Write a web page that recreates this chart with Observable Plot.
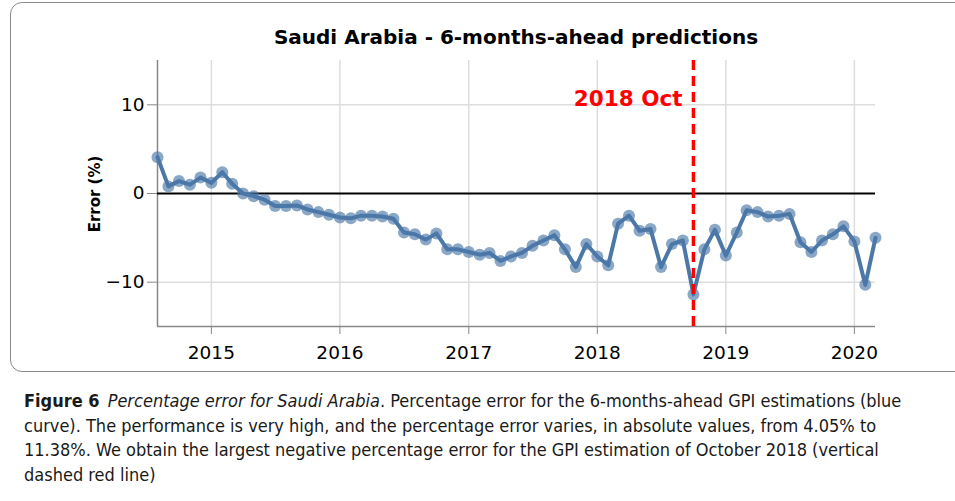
<!DOCTYPE html>
<html>
<head>
<meta charset="utf-8">
<script src="https://cdn.jsdelivr.net/npm/d3@7"></script>
<script src="https://cdn.jsdelivr.net/npm/@observablehq/plot@0.6"></script>
<style>
  html, body { margin: 0; padding: 0; background: #fff; }
  #page { position: relative; width: 955px; height: 501px; overflow: hidden; background: #fff; }
  #box { position: absolute; left: 10px; top: 2px; width: 960px; height: 370px; border: 1.5px solid #8a8a8a; border-radius: 12px; box-sizing: border-box; }
  #title { position: absolute; left: 156px; width: 720px; top: 25px; text-align: center; font-family: "DejaVu Sans", sans-serif; font-weight: bold; font-size: 20px; color: #000; }
  #ylabel { position: absolute; left: 95px; top: 194px; transform: translate(-50%, -50%) rotate(-90deg); font-family: "DejaVu Sans", sans-serif; font-weight: bold; font-size: 15px; white-space: nowrap; color: #000; }
  #chart { position: absolute; left: 0; top: 50px; }
  #caption { position: absolute; left: 24px; top: 389px; font-family: "Liberation Sans Narrow", "DejaVu Sans Condensed", "Open Sans", sans-serif; font-size: 18px; line-height: 24.5px; color: #1a1a1a; white-space: nowrap; }
  #caption b { font-weight: bold; margin-right: 8px; }
</style>
</head>
<body>
<div id="page">
  <div id="box"></div>
  <div id="title">Saudi Arabia - 6-months-ahead predictions</div>
  <div id="ylabel">Error (%)</div>
  <div id="chart"></div>
  <div id="caption">
    <div><b>Figure 6</b><i>Percentage error for Saudi Arabia</i>. Percentage error for the 6-months-ahead GPI estimations (blue</div>
    <div>curve). The performance is very high, and the percentage error varies, in absolute values, from 4.05% to</div>
    <div>11.38%. We obtain the largest negative percentage error for the GPI estimation of October 2018 (vertical</div>
    <div>dashed red line)</div>
  </div>
</div>
<script>
const months = [
  "2014-08","2014-09","2014-10","2014-11","2014-12",
  "2015-01","2015-02","2015-03","2015-04","2015-05","2015-06","2015-07","2015-08","2015-09","2015-10","2015-11","2015-12",
  "2016-01","2016-02","2016-03","2016-04","2016-05","2016-06","2016-07","2016-08","2016-09","2016-10","2016-11","2016-12",
  "2017-01","2017-02","2017-03","2017-04","2017-05","2017-06","2017-07","2017-08","2017-09","2017-10","2017-11","2017-12",
  "2018-01","2018-02","2018-03","2018-04","2018-05","2018-06","2018-07","2018-08","2018-09","2018-10","2018-11","2018-12",
  "2019-01","2019-02","2019-03","2019-04","2019-05","2019-06","2019-07","2019-08","2019-09","2019-10","2019-11","2019-12",
  "2020-01","2020-02","2020-03"
];
const errors = [
  4.1, 0.8, 1.4, 1.0, 1.8,
  1.2, 2.4, 1.1, 0.0, -0.3, -0.7, -1.4, -1.4, -1.35, -1.8, -2.1, -2.4,
  -2.7, -2.8, -2.5, -2.5, -2.6, -2.85, -4.4, -4.6, -5.2, -4.5, -6.3, -6.3,
  -6.6, -6.9, -6.7, -7.6, -7.1, -6.7, -5.9, -5.3, -4.7, -6.3, -8.3, -5.7,
  -7.1, -8.1, -3.4, -2.5, -4.2, -4.0, -8.3, -5.7, -5.3, -11.38, -6.3, -4.1,
  -7.0, -4.4, -1.9, -2.1, -2.6, -2.5, -2.3, -5.5, -6.6, -5.3, -4.6, -3.7,
  -5.4, -10.3, -5.0
];
const yearTicks = [2015, 2016, 2017, 2018, 2019, 2020];
const yTicks = [-10, 0, 10];
const markerMonth = "2018-10";
const markerLabel = "2018 Oct";

const parseMonth = d3.utcParse("%Y-%m");
const data = months.map((m, i) => ({date: parseMonth(m), error: errors[i]}));
const yearDates = yearTicks.map(y => new Date(Date.UTC(y, 0, 1)));
const xDomain = [data[0].date, data[data.length - 1].date];
const yDomain = [-15, 15];
const marker = parseMonth(markerMonth);

const chart = Plot.plot({
  width: 955,
  height: 320,
  marginLeft: 157,
  marginRight: 80,
  marginTop: 10,
  marginBottom: 44,
  style: {fontFamily: "DejaVu Sans, sans-serif", fontSize: "18px", color: "#000", background: "transparent", overflow: "visible"},
  x: {type: "utc", domain: xDomain},
  y: {domain: yDomain},
  marks: [
    Plot.gridX(yearDates, {stroke: "#dddddd", strokeOpacity: 1, strokeWidth: 1.5}),
    Plot.gridY([-10, 10], {stroke: "#dddddd", strokeOpacity: 1, strokeWidth: 1.5}),
    Plot.ruleX([xDomain[0]], {stroke: "#888", strokeWidth: 1.5}),
    Plot.ruleY([yDomain[0]], {stroke: "#888", strokeWidth: 1.5}),
    Plot.axisX(yearDates, {tickFormat: d3.utcFormat("%Y"), tickSize: 8, tickPadding: 11, stroke: "#888", label: null, fontSize: 18.5}),
    Plot.axisY(yTicks, {tickSize: 10, tickPadding: 3, stroke: "#888", label: null, fontSize: 18.5}),
    Plot.ruleY([0], {stroke: "black", strokeWidth: 2}),
    Plot.line(data, {x: "date", y: "error", stroke: "#4c78a8", strokeWidth: 4}),
    Plot.dot(data, {x: "date", y: "error", r: 6, fill: "#4c78a8", fillOpacity: 0.65, stroke: null}),
    Plot.ruleX([marker], {stroke: "red", strokeWidth: 3.5, strokeDasharray: "10,6"}),
    Plot.text([{date: marker, y: 10.7, label: markerLabel}], {x: "date", y: "y", text: "label", textAnchor: "end", dx: -11, fill: "red", fontWeight: "bold", fontSize: 21.5})
  ]
});
document.getElementById("chart").appendChild(chart);
</script>
</body>
</html>
